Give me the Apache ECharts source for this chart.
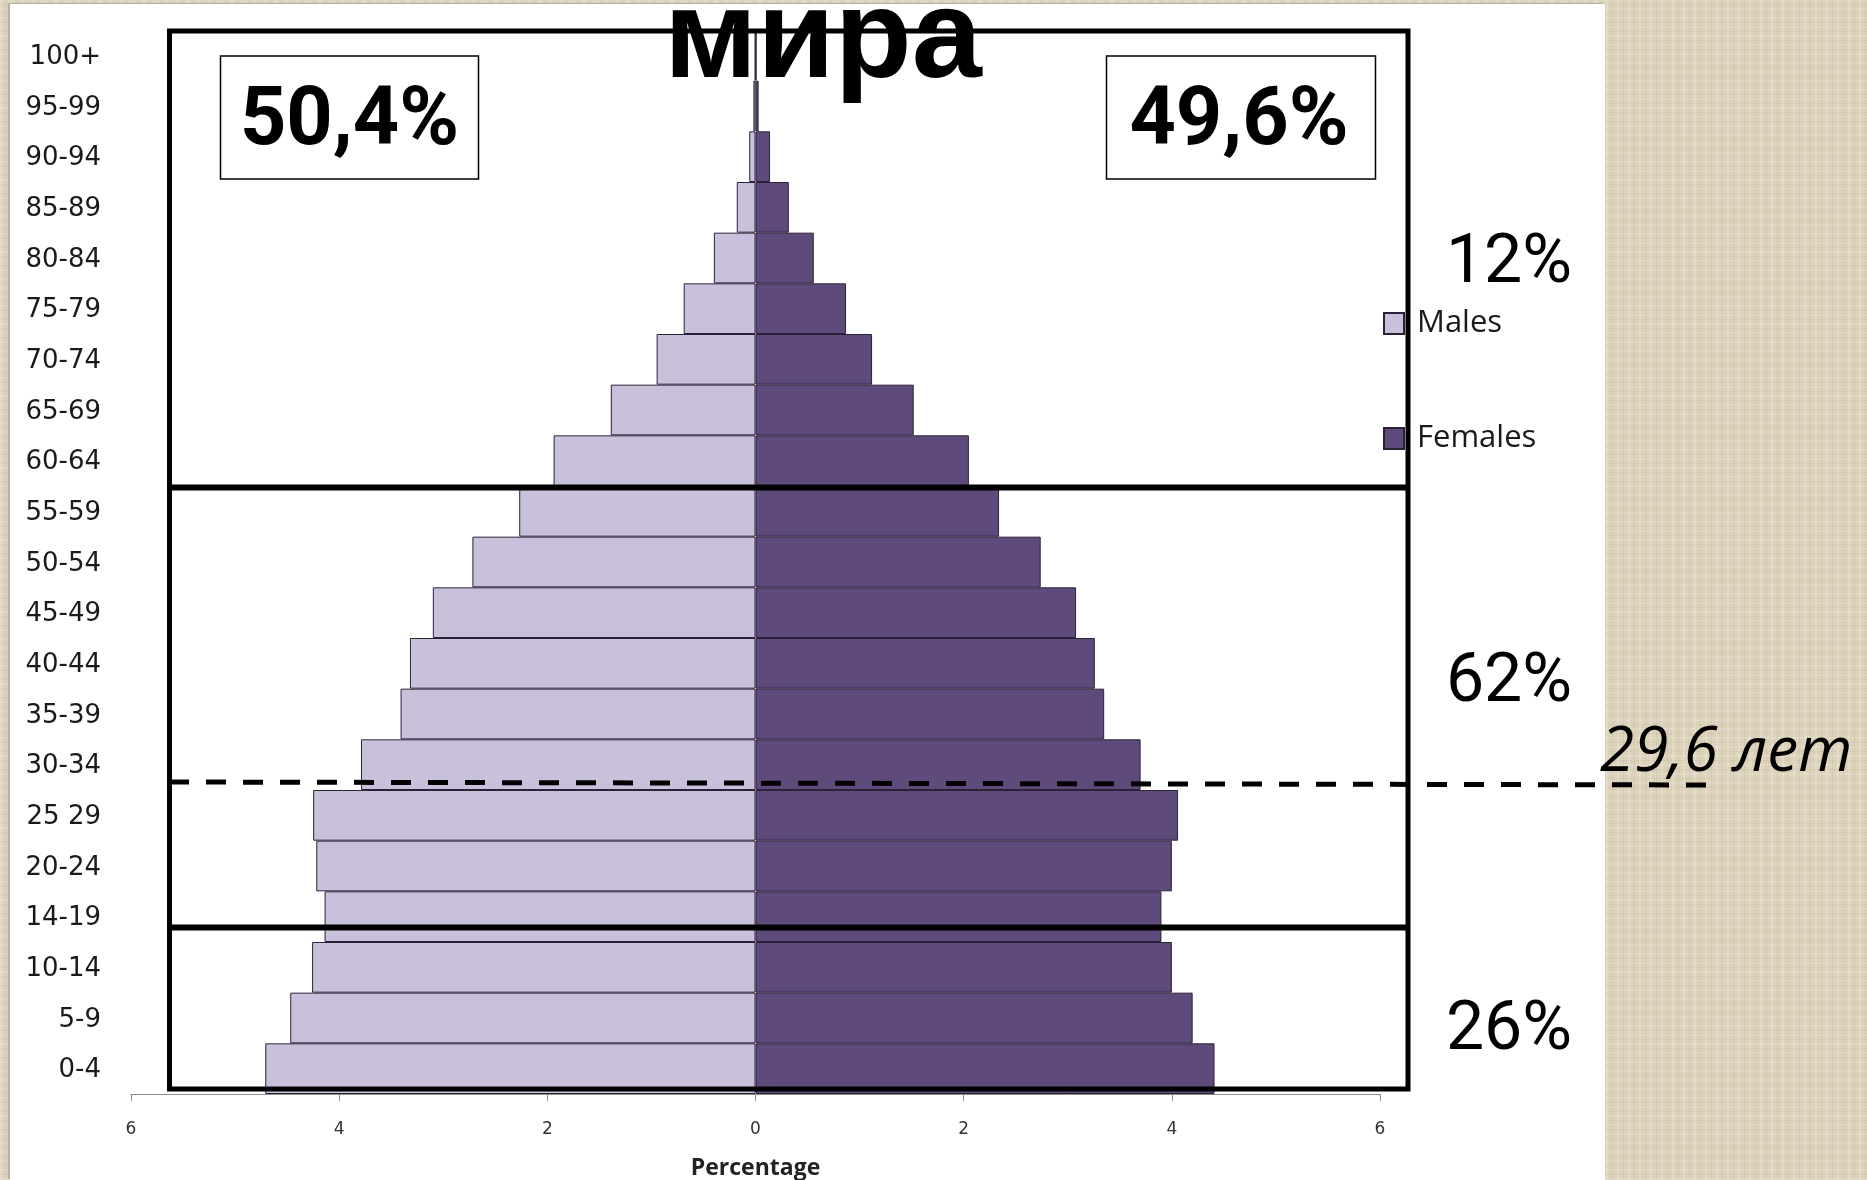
<!DOCTYPE html>
<html>
<head>
<meta charset="utf-8">
<script src="https://cdn.jsdelivr.net/npm/echarts@6/dist/echarts.min.js"></script>
<style>
  html, body { margin: 0; padding: 0; width: 1867px; height: 1180px; overflow: hidden; }
  body {
    background-color: #dcd2ba;
    background-image:
      repeating-linear-gradient(90deg, rgba(255,255,255,0.18) 0 2px, transparent 2px 6px, rgba(140,120,90,0.10) 6px 7px, transparent 7px 11px),
      repeating-linear-gradient(0deg, rgba(255,255,255,0.14) 0 2px, transparent 2px 5px, rgba(140,120,90,0.08) 5px 6px, transparent 6px 9px);
  }
  #paper { position: absolute; left: 10px; top: 4px; width: 1595px; height: 1176px; background: #ffffff; box-shadow: -2px -1px 0 #b5b0a6; }
  #chart { position: absolute; left: 0; top: 0; width: 1867px; height: 1180px; }
</style>
</head>
<body>
<div id="paper"></div>
<div id="chart"></div>
<script>
// ---- data ----
const categories = ['0-4','5-9','10-14','14-19','20-24','25 29','30-34','35-39','40-44','45-49','50-54','55-59','60-64','65-69','70-74','75-79','80-84','85-89','90-94','95-99','100+'];
const males   = [4.71,4.47,4.26,4.14,4.22,4.25,3.79,3.41,3.32,3.10,2.72,2.27,1.94,1.39,0.95,0.69,0.40,0.18,0.06,0.02,0.005];
const females = [4.41,4.20,4.00,3.90,4.00,4.06,3.70,3.35,3.26,3.08,2.74,2.34,2.05,1.52,1.12,0.87,0.56,0.32,0.14,0.03,0.01];
const xTicks = { min: -6, max: 6, interval: 2 };
const titleText = 'мира';
const maleShare = '50,4%';
const femaleShare = '49,6%';
const groupShares = ['12%', '62%', '26%'];
const medianAgeText = '29,6 лет';

const chart = echarts.init(document.getElementById('chart'), null, { renderer: 'canvas' });

const option = {
  animation: false,
  backgroundColor: 'transparent',
  grid: { left: 131, top: 30, width: 1249, height: 1064, containLabel: false, outerBoundsMode: 'none' },
  legend: {
    orient: 'vertical',
    left: 1383,
    top: 308,
    padding: 0,
    itemGap: 84,
    itemWidth: 20,
    itemHeight: 21,
    icon: 'rect',
    textStyle: { fontFamily: 'Open Sans', fontSize: 31, lineHeight: 31, color: '#1a1a1a', padding: [0, 0, 0, 8] },
    data: ['Males', 'Females']
  },
  xAxis: {
    type: 'value',
    min: xTicks.min, max: xTicks.max, interval: xTicks.interval,
    axisLine: { show: true, lineStyle: { color: '#8c8c8c', width: 1 } },
    axisTick: { show: true, length: 7, lineStyle: { color: '#8c8c8c' } },
    splitLine: { show: false },
    axisLabel: { formatter: v => String(Math.abs(v)), fontFamily: 'DejaVu Sans', fontSize: 17, color: '#333', margin: 27 },
    name: 'Percentage',
    nameLocation: 'middle',
    nameGap: 74,
    nameTextStyle: { fontFamily: 'Open Sans', fontWeight: 'bold', fontSize: 23, color: '#222', verticalAlign: 'middle' }
  },
  yAxis: {
    type: 'category',
    data: categories,
    axisLine: { show: false, onZero: false },
    axisTick: { show: false },
    splitLine: { show: false },
    axisLabel: { fontFamily: 'DejaVu Sans', fontSize: 26, color: '#1a1a1a', margin: 30, verticalAlign: 'top', lineHeight: 4 }
  },
  series: [
    {
      name: 'Males', type: 'bar',
      data: males.map(v => -v),
      barWidth: '100%', barGap: '-100%',
      itemStyle: { color: '#c9c1db', borderColor: '#2b2238', borderWidth: 1 }
    },
    {
      name: 'Females', type: 'bar',
      data: females,
      barWidth: '100%', barGap: '-100%',
      itemStyle: { color: '#5f4a7c', borderColor: '#2b2238', borderWidth: 1 }
    }
  ],
  graphic: [
    // outer thick box
    { type: 'rect', z: 100, shape: { x: 169.5, y: 31, width: 1238.5, height: 1058 }, style: { fill: null, stroke: '#000', lineWidth: 5 } },
    // age-group dividers
    { type: 'line', z: 100, shape: { x1: 169.5, y1: 487.5, x2: 1408, y2: 487.5 }, style: { stroke: '#000', lineWidth: 6 } },
    { type: 'line', z: 100, shape: { x1: 169.5, y1: 927.5, x2: 1408, y2: 927.5 }, style: { stroke: '#000', lineWidth: 6 } },
    // median age dashed line
    { type: 'line', z: 100, shape: { x1: 169, y1: 782, x2: 1720, y2: 785 }, style: { stroke: '#000', lineWidth: 5, lineDash: [20, 17] } },
    // share boxes
    { type: 'rect', z: 100, shape: { x: 220.5, y: 56, width: 258, height: 123 }, style: { fill: '#fff', stroke: '#000', lineWidth: 1.5 } },
    { type: 'text', z: 101, x: 349.5, y: 124, style: { text: maleShare, fontFamily: 'Roboto', fontWeight: 'bold', fontSize: 81, fill: '#000', align: 'center', verticalAlign: 'middle' } },
    { type: 'rect', z: 100, shape: { x: 1106.5, y: 56, width: 269, height: 123 }, style: { fill: '#fff', stroke: '#000', lineWidth: 1.5 } },
    { type: 'text', z: 101, x: 1239, y: 124, style: { text: femaleShare, fontFamily: 'Roboto', fontWeight: 'bold', fontSize: 81, fill: '#000', align: 'center', verticalAlign: 'middle' } },
    // group shares
    { type: 'text', z: 101, x: 1509, y: 265, style: { text: groupShares[0], fontFamily: 'Roboto', fontSize: 68, fill: '#000', align: 'center', verticalAlign: 'middle' } },
    { type: 'text', z: 101, x: 1509, y: 684, style: { text: groupShares[1], fontFamily: 'Roboto', fontSize: 68, fill: '#000', align: 'center', verticalAlign: 'middle' } },
    { type: 'text', z: 101, x: 1509, y: 1032, style: { text: groupShares[2], fontFamily: 'Roboto', fontSize: 68, fill: '#000', align: 'center', verticalAlign: 'middle' } },
    // median age text
    { type: 'text', z: 101, x: 1600, y: 753, style: { text: medianAgeText, fontFamily: 'Open Sans', fontStyle: 'italic', fontSize: 62, fill: '#000', align: 'left', verticalAlign: 'middle' } },
    // title (partially visible)
    { type: 'text', z: 102, x: 664, y: 42, style: { text: titleText, fontFamily: 'Liberation Sans', fontWeight: 'bold', fontSize: 126, fill: '#000', align: 'left', verticalAlign: 'middle' } }
  ]
};

chart.setOption(option);
</script>
</body>
</html>
